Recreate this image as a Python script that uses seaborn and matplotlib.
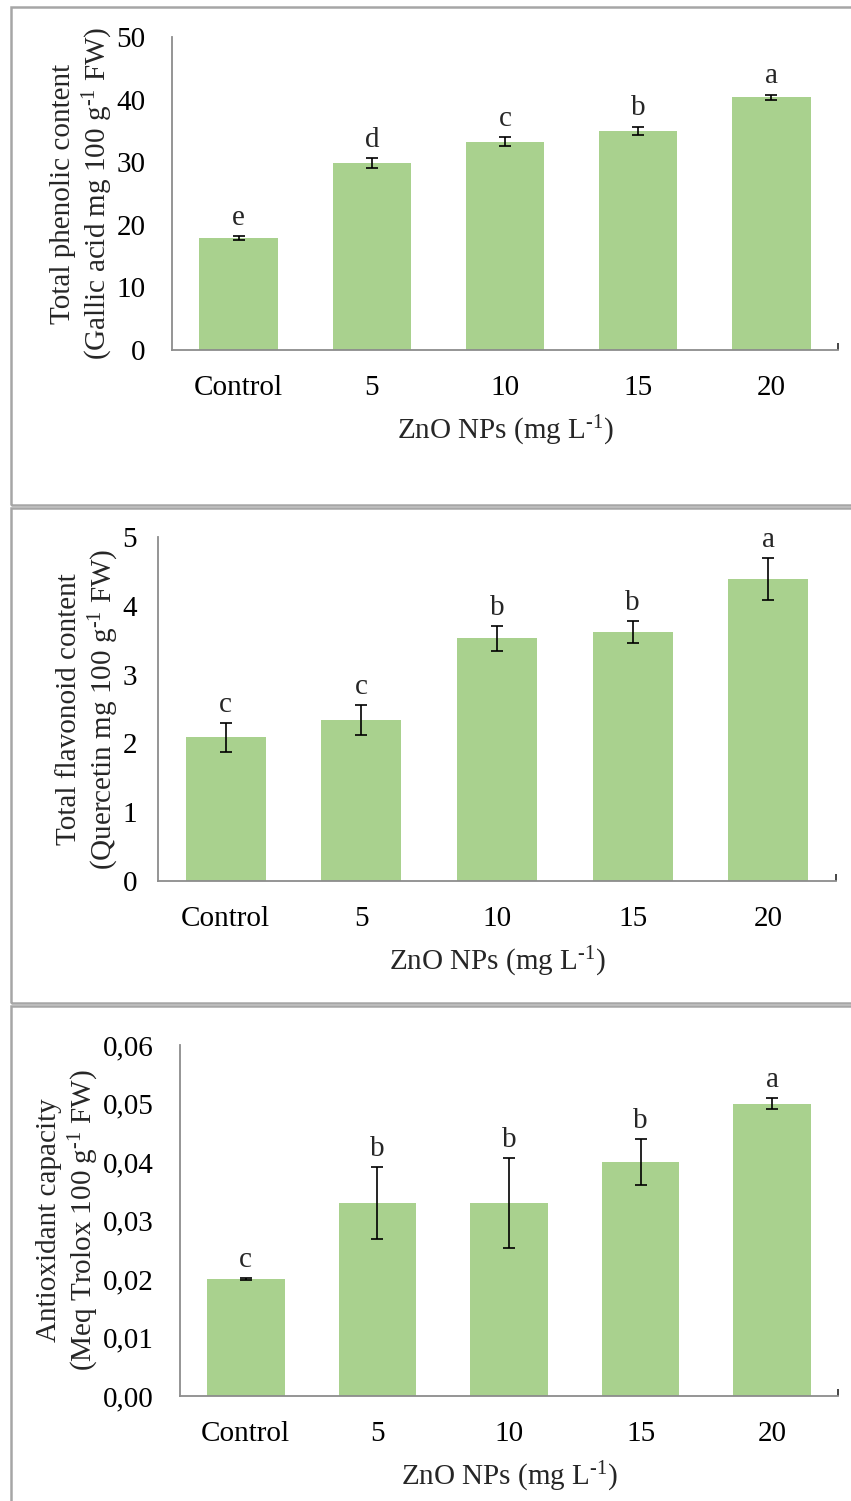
import numpy as np
import matplotlib
matplotlib.use("Agg")
import matplotlib.pyplot as plt
from matplotlib.patches import Rectangle
import seaborn as sns

# === DATA ===
doses = ["Control", "5", "10", "15", "20"]

phenolic = [17.9, 29.9, 33.3, 35.0, 40.4]
phenolic_err = [0.3, 0.8, 0.7, 0.7, 0.4]
phenolic_letters = ["e", "d", "c", "b", "a"]

flavonoid = [2.09, 2.34, 3.53, 3.62, 4.39]
flavonoid_err = [0.21, 0.22, 0.18, 0.16, 0.30]
flavonoid_letters = ["c", "c", "b", "b", "a"]

antiox = [0.020, 0.033, 0.033, 0.040, 0.050]
antiox_err = [0.0001, 0.0062, 0.0077, 0.0039, 0.0010]
antiox_letters = ["c", "b", "b", "b", "a"]

# === STYLE ===
sns.set_theme(style="white")
plt.rcParams["font.family"] = ["Liberation Serif", "DejaVu Serif"]
plt.rcParams["mathtext.fontset"] = "custom"
plt.rcParams["mathtext.rm"] = "Liberation Serif"
plt.rcParams["mathtext.it"] = "Liberation Serif:italic"
plt.rcParams["mathtext.default"] = "rm"

BAR_COLOR = "#A9D18E"
AXIS_GREY = "#8C8C8C"
FS = 21
SUP = r"$^{\text{-1}}$"

W, H = 851, 1501
fig = plt.figure(figsize=(W / 100, H / 100), dpi=100)


def px_axes(left, right, top, bottom):
    return fig.add_axes([left / W, 1 - bottom / H, (right - left) / W, (bottom - top) / H])


def panel(ax, vals, errs, letters, ylim, yticks, ylabel, ypad, ticklabels=None):
    x = np.arange(len(doses))
    sns.barplot(x=doses, y=vals, color=BAR_COLOR, width=0.59, ax=ax,
                saturation=1, errorbar=None, linewidth=0)
    ax.errorbar(x, vals, yerr=errs, fmt="none", ecolor="black",
                elinewidth=1.2, capsize=4.3, capthick=1.2)
    for xi, v, e, lab in zip(x, vals, errs, letters):
        ax.annotate(lab, (xi, v + e), xytext=(0, 8), textcoords="offset points",
                    ha="center", va="baseline", fontsize=FS)
    ax.set_xlim(-0.5, len(doses) - 0.5)
    ax.set_ylim(*ylim)
    ax.set_yticks(yticks)
    if ticklabels is not None:
        ax.set_yticklabels(ticklabels)
    ax.set_xticks(x)
    ax.set_xticklabels(doses)
    ax.set_xticks([len(doses) - 0.5], minor=True)
    ax.tick_params(axis="both", labelsize=FS, colors=AXIS_GREY, labelcolor="black")
    ax.tick_params(axis="y", direction="in", length=6, width=1.2, pad=ypad)
    ax.tick_params(axis="x", which="both", direction="in", length=5, width=1.2,
                   pad=18, bottom=True)
    sns.despine(ax=ax)
    for s in ["left", "bottom"]:
        ax.spines[s].set_color(AXIS_GREY)
        ax.spines[s].set_linewidth(1.3)
    ax.set_ylabel(ylabel, fontsize=FS, linespacing=1.2, labelpad=1)
    ax.set_xlabel("ZnO NPs (mg L" + SUP + ")", fontsize=FS, labelpad=9)


# === PANEL FRAMES ===
for top, bottom in [(7, 505), (508, 1003), (1006, 1510)]:
    fig.add_artist(Rectangle((11 / W, 1 - bottom / H), 1.0, (bottom - top) / H,
                             transform=fig.transFigure, fill=False,
                             edgecolor="#A6A6A6", linewidth=1.8))

ax1 = px_axes(172, 838, 37, 350)
panel(ax1, phenolic, phenolic_err, phenolic_letters, (0, 50), np.arange(0, 51, 10),
      "Total phenolic content\n(Gallic acid mg 100 g" + SUP + " FW)", ypad=19)

ax2 = px_axes(158, 836, 537, 881)
panel(ax2, flavonoid, flavonoid_err, flavonoid_letters, (0, 5), np.arange(0, 6, 1),
      "Total flavonoid content\n(Quercetin mg 100 g" + SUP + " FW)", ypad=15)

ax3 = px_axes(180, 838, 1045, 1396)
yt3 = np.round(np.arange(0, 0.061, 0.01), 2)
panel(ax3, antiox, antiox_err, antiox_letters, (0, 0.06), yt3,
      "Antioxidant capacity\n(Meq Trolox 100 g" + SUP + " FW)", ypad=19,
      ticklabels=[f"{t:.2f}".replace(".", ",") for t in yt3])

fig.savefig("out.png", dpi=100)
